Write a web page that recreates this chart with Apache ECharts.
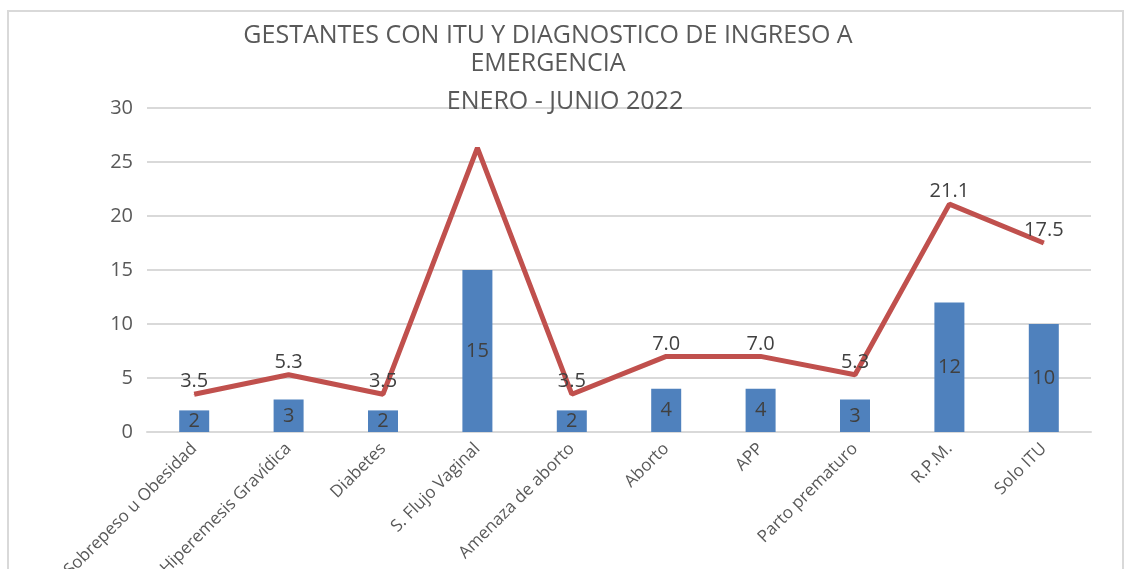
<!DOCTYPE html>
<html>
<head>
<meta charset="utf-8">
<script src="https://cdn.jsdelivr.net/npm/echarts@6/dist/echarts.min.js"></script>
<style>
  html, body { margin: 0; padding: 0; background: #fff; }
  #frame { position: absolute; left: 7px; top: 10px; width: 1113px; height: 600px; border: 2px solid #d9d9d9; }
  #main { position: absolute; left: 0; top: 0; width: 1131px; height: 569px; }
</style>
</head>
<body>
<div id="frame"></div>
<div id="main"></div>
<script>
// categorias del eje x
var categorias = ['Sobrepeso u Obesidad', 'Hiperemesis Gravídica', 'Diabetes', 'S. Flujo Vaginal',
  'Amenaza de aborto', 'Aborto', 'APP', 'Parto prematuro', 'R.P.M.', 'Solo ITU'];
// numero de gestantes (barras)
var casos = [2, 3, 2, 15, 2, 4, 4, 3, 12, 10];
// porcentaje (linea)
var porcentaje = [3.5, 5.3, 3.5, 26.3, 3.5, 7.0, 7.0, 5.3, 21.1, 17.5];
var yTicks = [0, 5, 10, 15, 20, 25, 30];

var chart = echarts.init(document.getElementById('main'), null, { renderer: 'canvas' });

var lineData = porcentaje.map(function (v, i) {
  // el pico de S. Flujo Vaginal no tiene etiqueta
  if (i === 3) return { value: v, label: { show: false } };
  return v;
});

var option = {
  backgroundColor: 'transparent',
  title: [{
    text: 'GESTANTES CON ITU Y DIAGNOSTICO DE INGRESO A\nEMERGENCIA',
    left: 543, top: 17, textAlign: 'center',
    textStyle: { fontFamily: 'Open Sans', fontWeight: 'normal', fontSize: 25, color: '#595959', lineHeight: 28 }
  }, {
    text: 'ENERO - JUNIO 2022',
    left: 560, top: 84, textAlign: 'center',
    textStyle: { fontFamily: 'Open Sans', fontWeight: 'normal', fontSize: 25, color: '#595959' }
  }],
  grid: { left: 147, right: 40, top: 108, bottom: 137, containLabel: false, outerBoundsMode: 'none' },
  xAxis: {
    type: 'category',
    data: categorias,
    axisLine: { lineStyle: { color: '#d9d9d9', width: 2 } },
    axisTick: { show: false },
    axisLabel: {
      rotate: 45, interval: 0, margin: 14,
      fontFamily: 'Open Sans', fontSize: 17, color: '#595959'
    }
  },
  yAxis: {
    type: 'value',
    min: yTicks[0], max: yTicks[yTicks.length - 1], interval: 5,
    axisLine: { show: false },
    axisTick: { show: false },
    axisLabel: { fontFamily: 'Open Sans', fontSize: 20, color: '#595959', margin: 14 },
    splitLine: { lineStyle: { color: '#d9d9d9', width: 2 } }
  },
  series: [{
    type: 'bar',
    data: casos,
    barWidth: 30,
    itemStyle: { color: '#4f81bd' },
    label: {
      show: true, position: 'inside',
      fontFamily: 'Open Sans', fontSize: 20, color: '#404040'
    },
    z: 2
  }, {
    type: 'line',
    data: lineData,
    symbol: 'circle',
    symbolSize: 1,
    showSymbol: true,
    itemStyle: { color: '#c0504d' },
    lineStyle: { color: '#c0504d', width: 5 },
    label: {
      show: true, position: 'top', distance: 2,
      fontFamily: 'Open Sans', fontSize: 20, color: '#404040',
      formatter: function (p) { return p.value.toFixed(1); }
    },
    z: 3
  }]
};

chart.setOption(option);
</script>
</body>
</html>
